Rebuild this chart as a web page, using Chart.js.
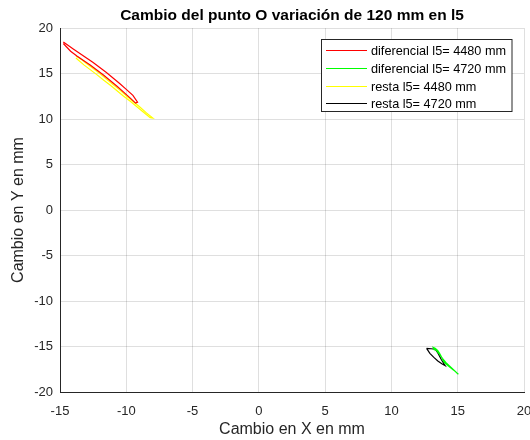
<!DOCTYPE html>
<html>
<head>
<meta charset="utf-8">
<script src="https://cdn.jsdelivr.net/npm/chart.js@4/dist/chart.umd.min.js"></script>
<style>
  html, body { margin: 0; padding: 0; background: #fff; }
  #wrap { width: 530px; height: 440px; }
</style>
</head>
<body>
<div id="wrap"><canvas id="punto-canvas"></canvas></div>
<script>
// series (mm)
var seriesLabels = ["diferencial l5= 4480 mm", "diferencial l5= 4720 mm", "resta l5= 4480 mm", "resta l5= 4720 mm"];
var seriesColors = ["#ff0000", "#00ff00", "#ffff00", "#000000"];

var difer4480X = [-14.75, -14.4, -14.0, -13.5, -13.0, -12.5, -12.0, -11.5, -11.0, -10.5, -10.0, -9.5, -9.15, -9.3, -9.7, -10.2, -10.7, -11.2, -11.7, -12.2, -12.7, -13.2, -13.7, -14.2, -14.75];
var difer4480Y = [18.45, 18.1, 17.7, 17.2, 16.7, 16.2, 15.65, 15.1, 14.5, 13.9, 13.25, 12.6, 11.85, 11.75, 12.3, 12.95, 13.6, 14.2, 14.8, 15.35, 15.9, 16.4, 16.9, 17.45, 18.3];

var difer4720X = [15.05, 14.7, 14.3, 14.05, 13.9, 13.8, 13.65, 13.5, 13.3, 13.15, 13.2, 13.4, 13.6, 13.85, 14.1, 14.5, 15.0];
var difer4720Y = [-18.05, -17.6, -17.15, -16.85, -16.55, -16.2, -15.8, -15.45, -15.2, -15.1, -15.25, -15.45, -15.8, -16.3, -16.75, -17.3, -18.0];

var resta4480X = [-13.8, -13.4, -13.0, -12.5, -12.0, -11.5, -11.0, -10.5, -10.0, -9.5, -9.0, -8.5, -8.0, -8.2, -8.7, -9.2, -9.7, -10.2, -10.7, -11.2, -11.7, -12.2, -12.7, -13.2, -13.8];
var resta4480Y = [16.95, 16.55, 16.1, 15.55, 15.0, 14.4, 13.8, 13.2, 12.55, 11.95, 11.35, 10.7, 10.1, 10.15, 10.75, 11.35, 11.95, 12.5, 13.1, 13.7, 14.25, 14.85, 15.4, 15.95, 16.7];

var resta4720X = [12.65, 13.0, 13.3, 13.5, 13.75, 14.05, 13.8, 13.5, 13.2, 12.9, 12.65];
var resta4720Y = [-15.2, -15.25, -15.3, -15.7, -16.4, -17.1, -16.9, -16.6, -16.2, -15.75, -15.2];

var xTicks = [-15, -10, -5, 0, 5, 10, 15, 20];
var yTicks = [-20, -15, -10, -5, 0, 5, 10, 15, 20];

function toPoints(xs, ys) {
    return xs.map(function (x, i) { return { x: x, y: ys[i] }; });
}

var seriesData = [
    toPoints(difer4480X, difer4480Y),
    toPoints(difer4720X, difer4720Y),
    toPoints(resta4480X, resta4480Y),
    toPoints(resta4720X, resta4720Y)
];

var FONT = "'Liberation Sans', Arial, sans-serif";
var AXIS_COLOR = "#262626";
var GRID_COLOR = "rgba(38,38,38,0.15)";

// legend box drawn inside the plot area, top right
var boxLegend = {
    id: "boxLegend",
    afterDraw: function (chart) {
        var ctx = chart.ctx;
        var left = 321.5, top = 39.5, w = 190.5, h = 72;
        ctx.save();
        ctx.fillStyle = "#fff";
        ctx.fillRect(left, top, w, h);
        ctx.strokeStyle = AXIS_COLOR;
        ctx.lineWidth = 1;
        ctx.strokeRect(left, top, w, h);
        ctx.font = "12.7px " + FONT;
        ctx.textBaseline = "middle";
        ctx.fillStyle = "#000";
        chart.data.datasets.forEach(function (ds, i) {
            var y = Math.round(50 + i * 17.8) + 0.5;
            ctx.strokeStyle = ds.borderColor;
            ctx.beginPath();
            ctx.moveTo(326, y);
            ctx.lineTo(367, y);
            ctx.stroke();
            ctx.fillText(ds.label, 371, y + 0.5);
        });
        ctx.restore();
    }
};

var ctxEl = document.getElementById("punto-canvas");
var puntoChart = new Chart(ctxEl, {
    type: "scatter",
    data: {
        datasets: seriesData.map(function (pts, i) {
            return {
                label: seriesLabels[i],
                data: pts,
                showLine: true,
                borderColor: seriesColors[i],
                backgroundColor: seriesColors[i],
                borderWidth: 1.2,
                pointRadius: 0,
                tension: 0
            };
        })
    },
    options: {
        responsive: true,
        maintainAspectRatio: false,
        animation: false,
        layout: { padding: { left: 7, right: 6, top: 0, bottom: 0 } },
        plugins: {
            legend: { display: false },
            tooltip: { enabled: false },
            title: {
                display: true,
                fullSize: false,
                text: "Cambio del punto O variación de 120 mm en l5",
                color: "#000",
                font: { family: FONT, size: 15.5, weight: "bold" },
                padding: { top: 6, bottom: 3.4 }
            }
        },
        scales: {
            x: {
                type: "linear",
                min: -15,
                max: 20,
                afterBuildTicks: function (scale) {
                    scale.ticks = xTicks.map(function (v) { return { value: v }; });
                },
                afterFit: function (scale) {
                    scale.height = 48;
                    scale.paddingLeft = 0;
                    scale.paddingRight = 0;
                },
                grid: { color: GRID_COLOR, drawTicks: false },
                border: { color: AXIS_COLOR, width: 1 },
                ticks: {
                    color: AXIS_COLOR,
                    padding: 12,
                    maxRotation: 0,
                    font: { family: FONT, size: 13 }
                },
                title: {
                    display: true,
                    text: "Cambio en X en mm",
                    color: AXIS_COLOR,
                    font: { family: FONT, size: 16 },
                    padding: { top: 2, bottom: 1 }
                }
            },
            y: {
                type: "linear",
                min: -20,
                max: 20,
                afterBuildTicks: function (scale) {
                    scale.ticks = yTicks.map(function (v) { return { value: v }; });
                },
                afterFit: function (scale) {
                    scale.width = 53;
                    scale.paddingTop = 0;
                    scale.paddingBottom = 0;
                },
                grid: { color: GRID_COLOR, drawTicks: false },
                border: { color: AXIS_COLOR, width: 1 },
                ticks: {
                    color: AXIS_COLOR,
                    padding: 7,
                    font: { family: FONT, size: 13 }
                },
                title: {
                    display: true,
                    text: "Cambio en Y en mm",
                    color: AXIS_COLOR,
                    font: { family: FONT, size: 16 },
                    padding: { top: 2, bottom: 0 }
                }
            }
        }
    },
    plugins: [boxLegend]
});
</script>
</body>
</html>
